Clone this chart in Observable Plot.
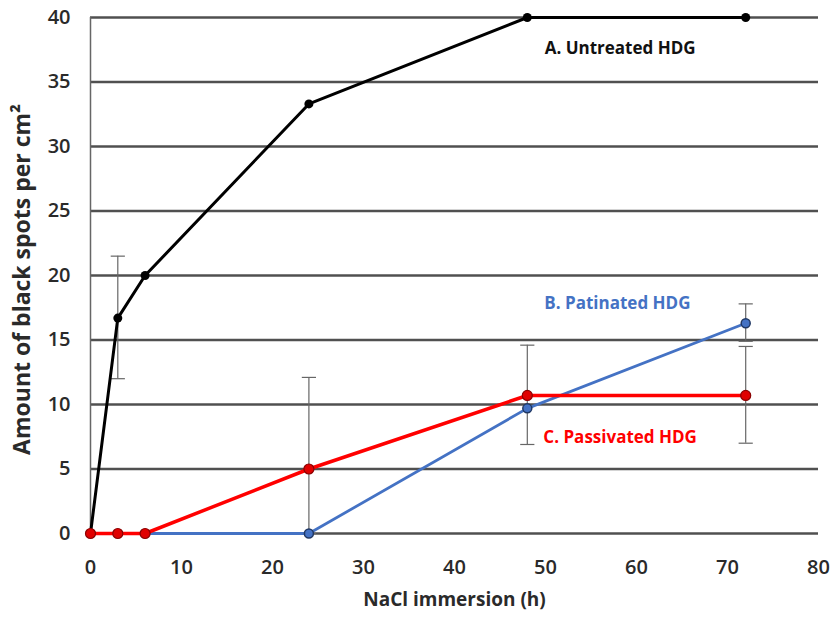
<!DOCTYPE html>
<html><head><meta charset="utf-8">
<script src="https://cdn.jsdelivr.net/npm/d3@7"></script>
<script src="https://cdn.jsdelivr.net/npm/@observablehq/plot@0.6"></script>
<style>
body{margin:0;background:#fff;}
svg{font-family:"Open Sans",sans-serif;}
</style></head><body><div id="chart"></div>
<script>
const hours = [0, 3, 6, 24, 48, 72];
const untreated = [0, 16.7, 20, 33.3, 40, 40];
const patinated = [0, 0, 0, 0, 9.7, 16.3];
const passivated = [0, 0, 0, 5, 10.7, 10.7];
const yTicks = [0, 5, 10, 15, 20, 25, 30, 35, 40];
const xTicks = [0, 10, 20, 30, 40, 50, 60, 70, 80];
// error bars: [series, hour, low, high]
const errorBars = [
  ["A", 3, 12.0, 21.5],
  ["C", 24, 0, 12.1],
  ["C", 48, 6.9, 14.6],
  ["C", 72, 7.0, 14.5],
  ["B", 72, 14.9, 17.8]
];
const labels = [
  {text: "A. Untreated HDG", x: 58.2, y: 37.6, c: "#111"},
  {text: "B. Patinated HDG", x: 57.9, y: 17.8, c: "#4472C4"},
  {text: "C. Passivated HDG", x: 58.2, y: 7.4, c: "#ff0000"}
];

const rows = (arr) => hours.map((h, i) => ({h, v: arr[i]}));
const A = rows(untreated), B = rows(patinated), C = rows(passivated);
const eb = errorBars.map(([s, h, lo, hi]) => ({s, h, lo, hi}));
const cap = {draw(ctx, size){ const w = Math.sqrt(size); ctx.moveTo(-w, 0); ctx.lineTo(w, 0); }};

const plot = Plot.plot({
  width: 830, height: 624,
  marginLeft: 90, marginRight: 12, marginTop: 17, marginBottom: 91,
  x: {domain: [0, 80], ticks: xTicks, label: null},
  y: {domain: [0, 40], ticks: yTicks, label: null},
  marks: [
    Plot.ruleY(yTicks, {stroke: "#505050", strokeWidth: 2.4}),
    Plot.ruleX([0], {stroke: "#666", strokeWidth: 1.5}),
    Plot.axisX({ticks: xTicks, tickSize: 0, tickPadding: 26, fontSize: 20, fontWeight: 600, fill: "#2a2a2a"}),
    Plot.axisY({ticks: yTicks, tickSize: 0, tickPadding: 20, fontSize: 20, fontWeight: 600, fill: "#2a2a2a"}),
    Plot.ruleX(eb, {x: "h", y1: "lo", y2: "hi", stroke: "#666", strokeWidth: 1.2}),
    Plot.dot(eb, {x: "h", y: "hi", symbol: cap, r: 4, stroke: "#666", strokeWidth: 1.2}),
    Plot.dot(eb, {x: "h", y: "lo", symbol: cap, r: 4, stroke: "#666", strokeWidth: 1.2}),
    Plot.line(B, {x: "h", y: "v", stroke: "#4472C4", strokeWidth: 2.8}),
    Plot.line(C, {x: "h", y: "v", stroke: "#ff0000", strokeWidth: 3.5}),
    Plot.line(A, {x: "h", y: "v", stroke: "#000", strokeWidth: 3}),
    Plot.dot(B.filter(d => d.h >= 24), {x: "h", y: "v", r: 4.5, fill: "#4472C4", stroke: "#203864", strokeWidth: 1.5}),
    Plot.dot(C, {x: "h", y: "v", r: 5, fill: "#e00000", stroke: "#8b0000", strokeWidth: 1.2}),
    Plot.dot(A.filter(d => d.h > 0), {x: "h", y: "v", r: 4.5, fill: "#000"}),
    Plot.text(labels, {x: "x", y: "y", text: "text", fill: "c", fontSize: 17, fontWeight: 700, textAnchor: "middle"}),
    Plot.text(["Amount of black spots per cm²"], {frameAnchor: "left", dx: -68, dy: 4, rotate: -90, textAnchor: "middle", fontSize: 23, fontWeight: 700, fill: "#2a2a2a"}),
    Plot.text(["NaCl immersion (h)"], {frameAnchor: "bottom", dy: 72, fontSize: 19, fontWeight: 700, fill: "#2a2a2a"})
  ]
});
document.getElementById("chart").appendChild(plot);
</script></body></html>
